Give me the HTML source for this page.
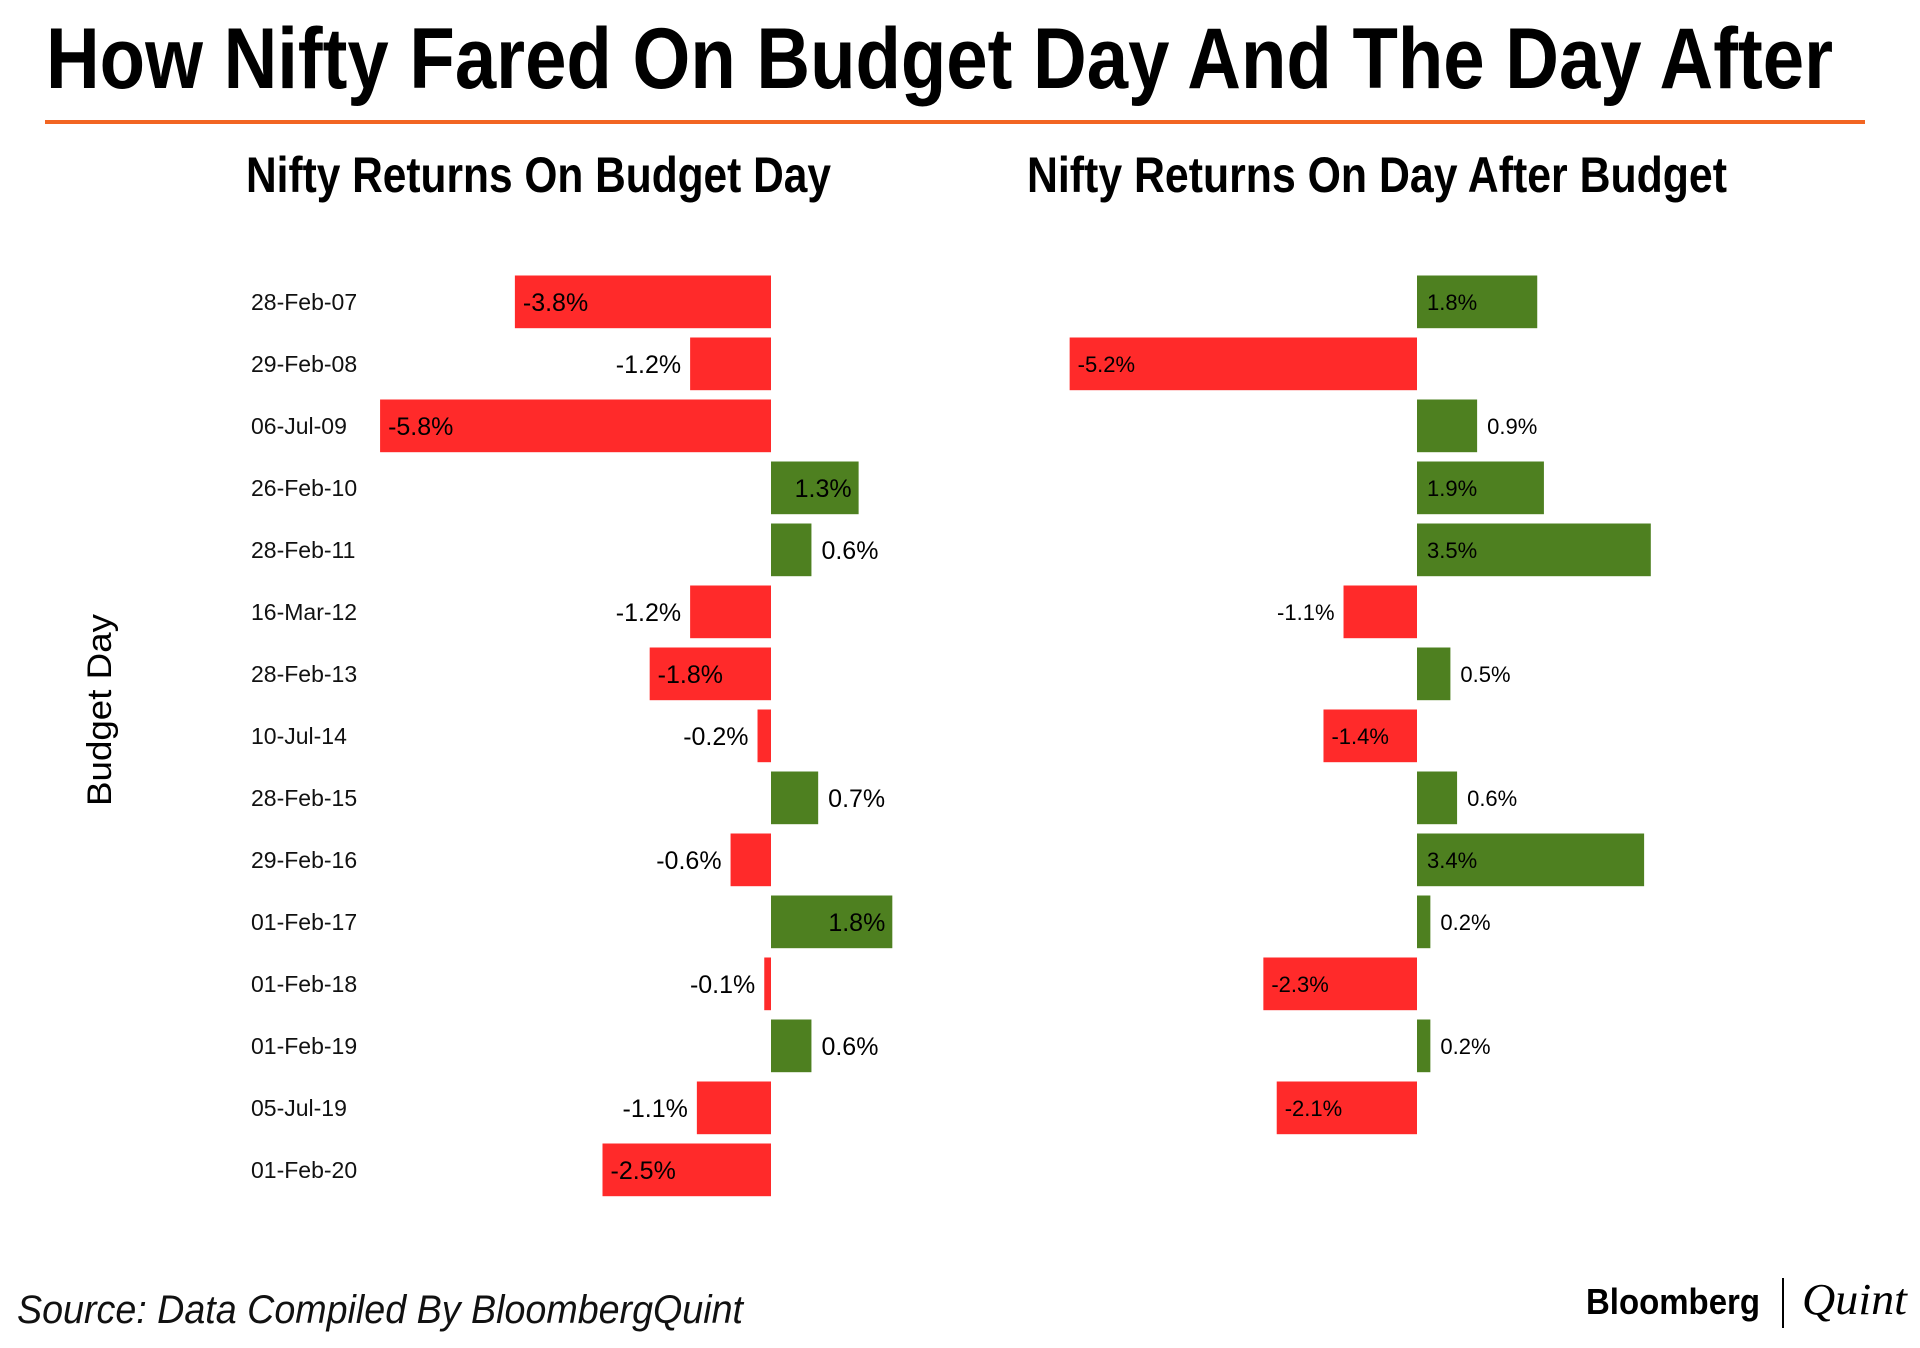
<!DOCTYPE html>
<html><head><meta charset="utf-8"><style>
html,body{margin:0;padding:0;background:#fff;}
svg{display:block;}
</style></head><body>
<svg id="chart" width="1920" height="1348" viewBox="0 0 1920 1348" xmlns="http://www.w3.org/2000/svg">
<text x="46" y="88" font-family="'Liberation Sans Narrow','Liberation Sans',sans-serif" font-weight="bold" font-size="86" textLength="1787" lengthAdjust="spacingAndGlyphs" fill="#000">How Nifty Fared On Budget Day And The Day After</text>
<rect x="45" y="120" width="1820" height="4" fill="#F26522"/>
<text x="246" y="192" font-family="'Liberation Sans Narrow','Liberation Sans',sans-serif" font-weight="bold" font-size="50" textLength="585" lengthAdjust="spacingAndGlyphs" fill="#000">Nifty Returns On Budget Day</text>
<text x="1027" y="192" font-family="'Liberation Sans Narrow','Liberation Sans',sans-serif" font-weight="bold" font-size="50" textLength="700" lengthAdjust="spacingAndGlyphs" fill="#000">Nifty Returns On Day After Budget</text>
<text transform="translate(111,710) rotate(-90)" text-anchor="middle" font-family="'Liberation Sans',sans-serif" font-size="34" textLength="192" lengthAdjust="spacingAndGlyphs" fill="#000">Budget Day</text>
<g id="labels"></g>
<g id="left"></g>
<g id="right"></g>
<text x="17" y="1323" font-family="'Liberation Sans Narrow','Liberation Sans',sans-serif" font-style="italic" font-size="40" textLength="726" lengthAdjust="spacingAndGlyphs" fill="#111">Source: Data Compiled By BloombergQuint</text>
<text x="1586" y="1314" font-family="'Liberation Sans',sans-serif" font-weight="bold" font-size="36" textLength="174" lengthAdjust="spacingAndGlyphs" fill="#000">Bloomberg</text>
<rect x="1782" y="1278" width="2" height="50" fill="#000"/>
<text x="1802" y="1314" font-family="'Liberation Serif',serif" font-style="italic" font-size="44" textLength="105" lengthAdjust="spacingAndGlyphs" fill="#000">Quint</text>
</svg>
<script>
const categories = ["28-Feb-07","29-Feb-08","06-Jul-09","26-Feb-10","28-Feb-11","16-Mar-12","28-Feb-13","10-Jul-14","28-Feb-15","29-Feb-16","01-Feb-17","01-Feb-18","01-Feb-19","05-Jul-19","01-Feb-20"];
const budgetDay = [-3.8,-1.2,-5.8,1.3,0.6,-1.2,-1.8,-0.2,0.7,-0.6,1.8,-0.1,0.6,-1.1,-2.5];
const dayAfter = [1.8,-5.2,0.9,1.9,3.5,-1.1,0.5,-1.4,0.6,3.4,0.2,-2.3,0.2,-2.1,null];

const NS="http://www.w3.org/2000/svg";
const RED="#FF2A2A", GREEN="#4E8020";
const rowTop=275.5, pitch=62.0, barH=52.7;
function yPos(i){return rowTop+i*pitch;}
function xLeft(v){return 771+v*67.4;}
function xRight(v){return 1417+v*66.8;}
function mk(tag,attrs,parent){const e=document.createElementNS(NS,tag);for(const k in attrs)e.setAttribute(k,attrs[k]);parent.appendChild(e);return e;}

const gl=document.getElementById('labels');
categories.forEach((c,i)=>{
  const t=mk('text',{x:251,y:yPos(i)+barH/2+8,'font-family':"'Liberation Sans Narrow','Liberation Sans',sans-serif",'font-size':23,fill:'#111'},gl);
  
  
  t.textContent=c;
});

function drawSeries(vals,g,xf,thr,font,fsize,name){
  vals.forEach((v,i)=>{
    if(v===null)return;
    const x0=xf(0),x1=xf(v);
    const r=mk('rect',{x:Math.min(x0,x1),y:yPos(i),width:Math.abs(x1-x0),height:barH,fill:v<0?RED:GREEN},g);
    
    
    const t=mk('text',{y:yPos(i)+barH/2+fsize*0.36,'font-family':font,'font-size':fsize,fill:'#000'},g);
    
    
    const inside=Math.abs(v)>=thr;
    if(inside){
      if(v<0){t.setAttribute('x',x1+8);}
      else if(name==='budget-day'){t.setAttribute('x',x1-7);t.setAttribute('text-anchor','end');}
      else{t.setAttribute('x',x0+10);}
    }else{
      if(v<0){t.setAttribute('x',x1-9);t.setAttribute('text-anchor','end');}
      else{t.setAttribute('x',x1+10);}
    }
    t.textContent=v.toFixed(1)+'%';
  });
}
drawSeries(budgetDay,document.getElementById('left'),xLeft,1.25,"'Liberation Sans Narrow','Liberation Sans',sans-serif",25,'budget-day');
drawSeries(dayAfter,document.getElementById('right'),xRight,1.3,"'Liberation Sans',sans-serif",22,'day-after');
</script>
</body></html>
